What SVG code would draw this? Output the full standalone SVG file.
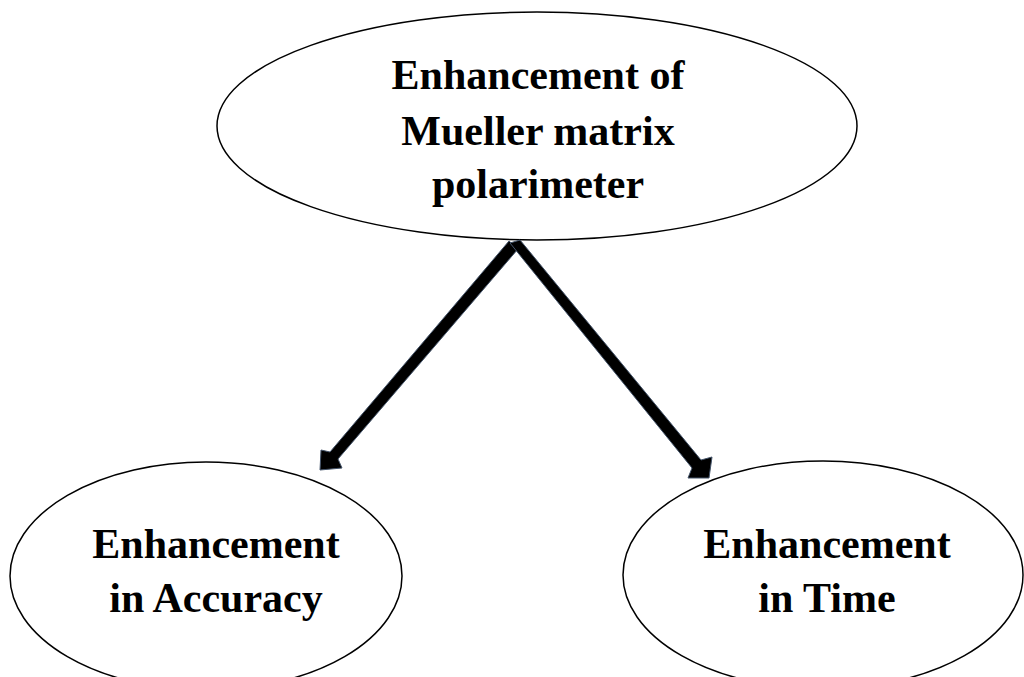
<svg xmlns="http://www.w3.org/2000/svg" width="1024" height="677" viewBox="0 0 1024 677">
<style>
.node ellipse{fill:#fff;stroke:#000;stroke-width:1.5}
.node text{font-family:"Liberation Serif","Times New Roman",serif;font-weight:bold;font-size:42px;text-anchor:middle;fill:#000}
.arrow{fill:#000;stroke:#44546a;stroke-width:1}
</style>
<rect width="1024" height="677" fill="#fff"/>
<g id="root" class="node">
<ellipse cx="537" cy="126" rx="320" ry="114"/>
<text x="538" y="89">Enhancement of</text>
<text x="538" y="145">Mueller matrix</text>
<text x="538" y="198">polarimeter</text>
</g>
<g id="accuracy" class="node">
<ellipse cx="206" cy="576" rx="196" ry="114"/>
<text x="216" y="558">Enhancement</text>
<text x="216" y="612">in Accuracy</text>
</g>
<g id="time" class="node">
<ellipse cx="823" cy="575" rx="200" ry="114"/>
<text x="827" y="558">Enhancement</text>
<text x="827" y="612">in Time</text>
</g>
<g id="connectors">
<polygon class="arrow" points="509,241 518,249 338,459 342,468 320,470 321,450 330,452"/>
<polygon class="arrow" points="510,243 520,240 701,460 712,457 709,478 688,478 692,468"/>
</g>
</svg>
